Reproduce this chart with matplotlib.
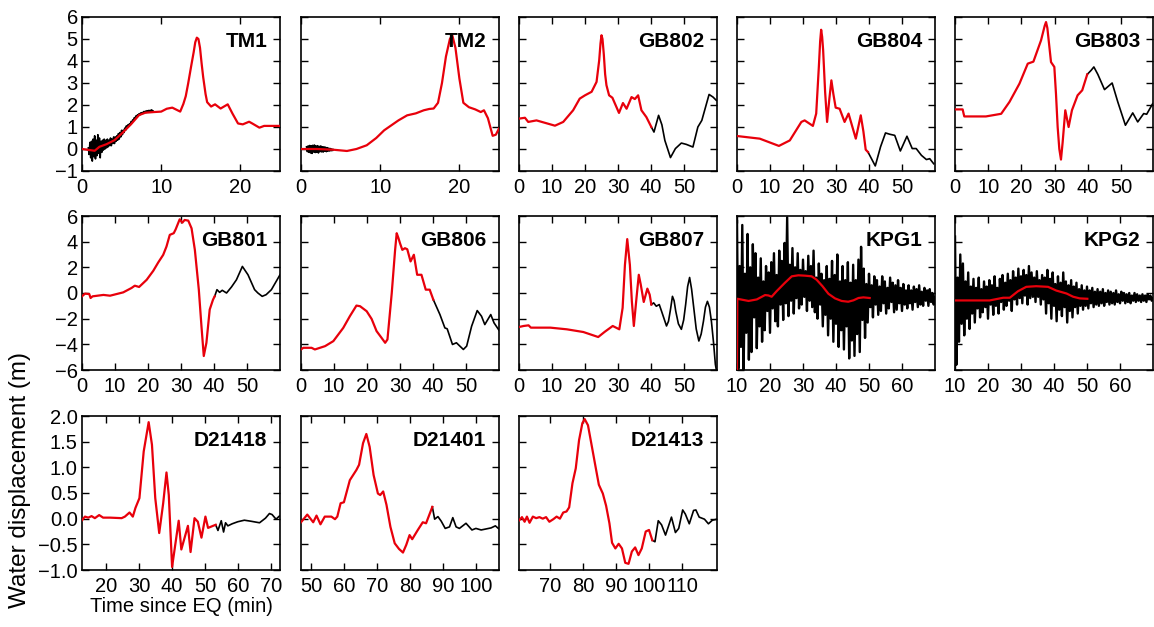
import numpy as np
import matplotlib
matplotlib.use("Agg")
import matplotlib.pyplot as plt

plt.rcParams['font.family'] = ['Liberation Sans', 'DejaVu Sans']
plt.rcParams['font.size'] = 14.5

# ---- row 1 stations (m, minutes since EQ) ----
tm1_model_t = [0, 1.0, 1.6, 2.2, 3.1, 4.1, 5.1, 6.2, 7.2, 8.0, 9.1, 10.0, 10.7, 11.4, 12.4, 12.8, 13.1,
               13.4, 13.8, 14.1, 14.3, 14.5, 14.7, 14.9, 15.1, 15.3, 15.6, 15.8, 16.3, 16.8, 17.5, 18.4,
               19.0, 19.7, 20.3, 21.1, 21.5, 22.4, 23.0, 23.8, 25.0]
tm1_model_h = [0.0, -0.05, -0.08, 0.1, 0.22, 0.4, 0.73, 1.13, 1.54, 1.65, 1.68, 1.7, 1.83, 1.88, 1.7, 2.05,
               2.4, 2.97, 3.8, 4.4, 4.85, 5.06, 5.0, 4.6, 3.9, 3.27, 2.5, 2.13, 1.93, 2.03, 1.84, 2.03,
               1.61, 1.16, 1.12, 1.24, 1.16, 0.97, 1.05, 1.05, 1.05]
tm1_obs_t0, tm1_obs_dt = 0.8, 0.1
tm1_obs_h = [0.05, -0.25, 0.30, -0.40, 0.35, -0.55, 0.45, -0.35, 0.60, -0.45, 0.40, -0.30, 0.65, -0.20,
             0.50, -0.40, 0.35, -0.15, 0.40, -0.05, 0.45, 0.00, 0.40, 0.05, 0.45, 0.10, 0.40, 0.15, 0.50,
             0.15, 0.45, 0.25, 0.55, 0.25, 0.55, 0.35, 0.60, 0.40, 0.70, 0.45, 0.75, 0.55, 0.85, 0.65,
             0.85, 0.75, 0.95, 0.85, 1.05, 0.95, 1.10, 1.05, 1.15, 1.10, 1.25, 1.20, 1.32, 1.30, 1.42,
             1.38, 1.50, 1.45, 1.55, 1.52, 1.60, 1.55, 1.64, 1.60, 1.66, 1.62, 1.70, 1.64, 1.72, 1.66,
             1.74, 1.68, 1.75, 1.68, 1.76, 1.70, 1.78, 1.70, 1.72]

tm2_model_t = [0, 2.0, 4.0, 5.8, 7.0, 8.3, 9.5, 10.5, 11.3, 12.3, 13.4, 14.5, 15.5, 16.2, 16.75, 17.3,
               17.8, 18.3, 18.8, 19.1, 19.5, 20.0, 20.5, 21.2, 22.0, 22.7, 23.1, 23.6, 24.2, 24.6, 25.0]
tm2_model_h = [0.0, 0.0, -0.03, -0.09, 0.0, 0.17, 0.5, 0.85, 1.05, 1.3, 1.53, 1.62, 1.76, 1.82, 1.84, 2.1,
               3.0, 4.2, 5.0, 5.17, 4.6, 3.2, 2.1, 1.9, 1.8, 1.68, 1.76, 1.4, 0.6, 0.65, 0.93]
tm2_obs_t0, tm2_obs_dt = 0.7, 0.1
tm2_obs_h = [0.10, -0.12, 0.14, -0.15, 0.16, -0.18, 0.15, -0.20, 0.17, -0.14, 0.18, -0.16, 0.14, -0.15,
             0.15, -0.18, 0.12, -0.12, 0.14, -0.13, 0.10, -0.14, 0.10, -0.10, 0.08, -0.12, 0.06, -0.10,
             0.04, -0.09, 0.02, -0.08, 0.0, -0.07, -0.03]

gb802_model_t = [0, 1.8, 2.8, 5.3, 10.9, 13.4, 16.4, 18.4, 20.0, 22.0, 23.5, 24.3, 24.7, 25.0, 25.3, 25.7,
                 26.1, 26.5, 27.3, 28.3, 30.3, 31.5, 32.6, 34.1, 35.1, 36.1, 37.1, 38.6, 40.1]
gb802_model_h = [1.38, 1.42, 1.23, 1.3, 1.06, 1.23, 1.76, 2.29, 2.44, 2.6, 3.05, 4.03, 4.8, 5.17, 5.0, 4.3,
                 3.4, 2.9, 2.44, 2.33, 1.64, 2.09, 1.83, 2.36, 2.27, 2.44, 1.76, 1.45, 1.0]
gb802_obs_t = [40.1, 40.9, 42.3, 43.3, 44.2, 45.9, 47.4, 49.2, 50.7, 52.7, 54.2, 55.4, 57.6, 58.8, 59.8]
gb802_obs_h = [1.0, 0.77, 1.53, 1.1, 0.39, -0.39, 0.02, 0.27, 0.21, 0.09, 1.0, 1.3, 2.48, 2.36, 2.21]

gb804_model_t = [0, 6.9, 12.7, 16.0, 19.5, 20.5, 23.0, 24.0, 24.8, 25.2, 25.5, 25.8, 26.1, 26.7, 27.3,
                 28.0, 28.6, 29.2, 29.9, 31.1, 32.6, 33.8, 36.0, 37.5, 38.3, 39.0, 39.7]
gb804_model_h = [0.59, 0.47, 0.14, 0.39, 1.23, 1.3, 1.05, 1.61, 3.73, 4.9, 5.42, 5.1, 4.5, 2.6, 1.23,
                 2.3, 3.12, 2.5, 1.88, 1.83, 1.23, 1.61, 0.47, 1.53, 0.8, -0.03, -0.14]
gb804_obs_t = [39.7, 41.9, 43.5, 45.0, 46.3, 47.8, 49.5, 51.5, 53.1, 54.3, 55.9, 57.4, 58.4, 59.6]
gb804_obs_h = [-0.14, -0.77, 0.1, 0.73, 0.67, 0.62, -0.09, 0.58, 0.02, 0.02, -0.29, -0.48, -0.44, -0.67]

gb803_model_t = [0, 2.3, 2.6, 2.8, 9.3, 13.9, 16.4, 19.4, 21.9, 23.6, 25.9, 27.0, 27.4, 27.8, 28.9, 29.9,
                 30.4, 30.9, 31.4, 31.9, 32.4, 33.2, 34.2, 35.2, 36.9, 38.3, 39.8]
gb803_model_h = [1.8, 1.8, 1.6, 1.48, 1.48, 1.6, 2.14, 2.97, 3.88, 3.97, 4.94, 5.6, 5.77, 5.5, 3.95, 3.73,
                 2.5, 1.0, 0.0, -0.48, 0.3, 1.76, 1.0, 1.76, 2.44, 2.67, 3.39]
gb803_obs_t = [39.8, 41.0, 41.8, 43.0, 45.0, 47.3, 49.0, 51.3, 53.5, 55.0, 56.8, 57.7, 59.5]
gb803_obs_h = [3.39, 3.58, 3.73, 3.39, 2.7, 3.0, 2.14, 1.08, 1.64, 1.23, 1.61, 1.58, 2.06]

# ---- row 2 stations ----
gb801_model_t = [0, 0.9, 2.2, 2.6, 3.2, 6.5, 8.5, 12.5, 15.0, 16.0, 17.3, 19.6, 21.6, 23.1, 24.6, 25.6,
                 26.6, 27.8, 28.4, 29.6, 30.4, 31.1, 32.2, 33.2, 34.2, 35.4, 36.2, 36.9, 37.7, 38.7, 39.7,
                 40.2]
gb801_model_h = [-0.26, -0.05, -0.08, -0.39, -0.26, -0.15, -0.21, 0.05, 0.39, 0.57, 0.47, 1.03, 1.73,
                 2.38, 2.97, 3.62, 4.53, 4.66, 4.97, 5.74, 5.48, 5.69, 5.64, 5.04, 3.36, 0.26, -2.59, -4.91,
                 -3.88, -1.29, -0.52, -0.26]
gb801_obs_t = [40.2, 40.9, 41.7, 42.5, 43.8, 45.3, 46.8, 48.6, 50.3, 52.3, 53.3, 54.6, 55.8, 57.4, 60.0]
gb801_obs_h = [-0.26, 0.26, 0.05, 0.21, 0.0, 0.47, 1.03, 2.07, 1.42, 0.26, 0.0, -0.26, -0.13, 0.26, 1.42]

gb806_model_t = [0, 0.7, 3.2, 4.2, 7.3, 9.8, 12.8, 14.8, 16.8, 17.9, 19.9, 21.4, 22.9, 24.4, 25.5, 26.2,
                 27.5, 28.5, 29.0, 29.5, 30.0, 30.7, 31.5, 32.2, 33.2, 34.2, 35.2, 36.5, 37.8, 39.0, 40.1]
gb806_model_h = [-4.4, -4.27, -4.27, -4.4, -4.14, -3.75, -2.72, -1.81, -0.98, -1.03, -1.42, -2.02, -2.97,
                 -3.49, -3.88, -3.62, 0.0, 3.3, 4.66, 4.3, 3.88, 3.36, 3.49, 3.41, 2.46, 2.98, 1.42, 1.42,
                 0.26, 0.26, -0.52]
gb806_obs_t = [40.1, 42.1, 43.6, 44.3, 45.9, 47.1, 49.2, 50.2, 51.7, 53.4, 54.7, 55.7, 57.5, 58.5, 60.0]
gb806_obs_h = [-0.52, -1.68, -2.72, -2.79, -4.01, -3.88, -4.4, -4.14, -2.59, -1.37, -1.81, -2.46, -1.68,
               -2.33, -2.9]

gb807_model_t = [0, 1.4, 2.9, 3.6, 9.5, 14.5, 19.5, 22.5, 24.0, 26.0, 28.4, 29.4, 30.4, 31.4, 32.1, 32.8,
                 33.6, 34.2, 34.8, 35.6, 36.3, 36.9, 37.8, 38.9, 39.6, 40.1]
gb807_model_h = [-2.65, -2.57, -2.52, -2.7, -2.7, -2.83, -3.04, -3.3, -3.43, -3.02, -2.57, -2.7, -2.83,
                 -1.16, 2.19, 4.2, 2.19, -0.65, -2.57, -0.39, 1.42, 0.65, -0.7, 0.34, -0.13, -0.9]
gb807_obs_t = [40.1, 40.8, 41.6, 42.5, 43.2, 44.7, 45.3, 45.9, 46.5, 47.0, 47.5, 48.3, 49.2, 49.9, 50.5,
               51.1, 51.7, 52.3, 52.9, 53.7, 54.5, 55.2, 55.9, 56.5, 57.1, 57.7, 58.3, 59.0, 59.5, 59.8]
gb807_obs_h = [-0.9, -0.77, -1.03, -0.9, -1.42, -2.57, -2.2, -1.29, -0.26, -0.6, -1.42, -2.4, -2.83, -2.1,
               -0.9, 0.5, 1.21, 0.3, -1.03, -2.8, -3.74, -3.2, -2.19, -1.1, -0.65, -1.1, -2.19, -4.0,
               -5.55, -6.0]

kpg1_model_t = [10.0, 10.1, 13.5, 16.0, 18.5, 19.5, 20.5, 22.0, 24.5, 26.6, 28.6, 30.6, 32.6, 34.1, 35.9,
                37.7, 39.7, 41.7, 43.7, 45.3, 46.8, 48.3, 50.2]
kpg1_model_h = [-6.0, -0.45, -0.62, -0.5, -0.16, -0.19, -0.29, 0.14, 0.79, 1.30, 1.38, 1.35, 1.30, 1.04,
                0.53, -0.06, -0.42, -0.62, -0.68, -0.57, -0.39, -0.34, -0.39]
kpg1_obs_t0, kpg1_obs_dt = 10.0, 0.4
kpg1_obs_h = [5.6, -5.9, 2.1, -4.2, 5.3, -6.0, 1.5, -3.1, 4.6, -5.2,
              2.0, -4.6, 3.8, -1.9, 3.1, -4.3, 1.2, -2.6, 2.7, -3.8,
              0.9, -2.9, 2.1, -1.4, 1.6, -3.1, 2.4, -1.2, 3.1, -2.2,
              1.4, -2.6, 3.3, -0.9, 2.5, -2.1, 3.9, -0.8, 5.9, -1.8,
              2.2, -0.6, 3.5, -1.6, 2.0, -0.4, 3.1, -1.2, 1.8, -0.9,
              2.6, -0.3, 1.7, -1.4, 2.9, -0.6, 2.1, -1.1, 3.3, -1.5,
              1.2, -2.0, 2.3, -0.9, 1.5, -2.6, 1.0, -1.7, 2.1, -3.3,
              1.1, -2.0, 2.5, -3.8, 1.4, -2.4, 3.0, -4.2, 0.9, -2.9,
              2.1, -4.4, 1.0, -2.6, 2.4, -5.1, 0.8, -3.7, 2.2, -4.9,
              1.0, -3.2, 2.6, -4.6, 3.6, -2.1, 1.9, -3.5, 0.7, -2.3,
              1.5, -1.1, 0.6, -1.9, 1.3, -0.9, 1.0, -1.7, 0.5, -1.4,
              1.3, -0.8, 0.9, -1.6, 0.4, -1.2, 1.2, -0.7, 0.8, -1.5,
              0.6, -1.3, 1.0, -0.8, 0.4, -1.4, 0.7, -0.9, 0.2, -1.2,
              0.6, -0.8, 0.2, -1.3, 0.5, -0.7, 0.3, -1.1, 0.6, -0.9,
              0.1, -1.0, 0.4, -0.6, 0.2, -1.0, 0.3, -0.7, 0.0, -0.9,
              -0.3]

kpg2_model_t = [10.0, 20.5, 24.6, 26.6, 29.1, 31.6, 34.6, 38.2, 40.7, 43.8, 45.8, 47.8, 50.1]
kpg2_model_h = [-0.58, -0.58, -0.37, -0.37, 0.14, 0.48, 0.53, 0.48, 0.19, -0.04, -0.29, -0.42, -0.45]
kpg2_obs_t0, kpg2_obs_dt = 10.0, 0.4
kpg2_obs_h = [4.4, -5.6, 1.2, -3.8, 3.0, -2.4, 2.3, -3.3, 0.9, -2.0,
              1.6, -2.8, 0.5, -1.6, 1.1, -2.3, 0.4, -1.2, 1.2, -1.9,
              0.3, -1.5, 0.9, -1.1, 0.5, -2.0, 1.0, -0.9, 0.6, -1.7,
              1.3, -1.0, 0.4, -1.6, 1.1, -0.7, 1.4, -1.3, 0.8, -1.0,
              1.5, -0.6, 1.0, -1.4, 1.7, -0.5, 1.2, -0.9, 1.9, -0.4,
              1.3, -0.8, 1.8, -0.2, 1.4, -0.9, 2.1, -0.4, 1.6, -0.3,
              1.2, -0.7, 1.7, -0.3, 1.0, -0.9, 1.4, -0.5, 1.2, -1.6,
              1.8, -0.8, 1.1, -2.0, 1.6, -1.0, 0.7, -2.2, 1.3, -1.3,
              0.8, -1.8, 1.6, -1.1, 0.9, -2.3, 0.6, -1.4, 1.0, -1.9,
              0.5, -1.1, 0.8, -1.6, 0.3, -1.0, 0.6, -1.3, 0.2, -1.0,
              0.5, -1.2, 0.2, -0.8, 0.4, -1.1, 0.1, -0.9, 0.3, -1.0,
              0.1, -0.8, 0.3, -1.0, 0.0, -0.7, 0.2, -0.9, 0.1, -0.8,
              0.0, -0.9, 0.2, -0.7, -0.1, -0.8, 0.1, -0.6, 0.0, -0.8,
              -0.1, -0.7, 0.0, -0.8, -0.2, -0.6, 0.0, -0.7, -0.1, -0.6,
              -0.2, -0.7, -0.1, -0.6, -0.2, -0.7, -0.1, -0.5, -0.2, -0.6,
              -0.4]

# ---- row 3: DART buoys ----
d21418_model_t = [12.7, 13.6, 14.6, 15.6, 16.6, 17.9, 19.1, 21.2, 24.7, 25.7, 27.1, 28.1, 28.9, 30.1, 31.4,
                  32.9, 33.9, 34.9, 36.1, 37.3, 38.3, 39.0, 40.0, 42.0, 42.8, 44.8, 45.6, 46.8, 47.8, 48.9,
                  50.1, 50.9, 52.4, 53.2]
d21418_model_h = [-0.03, 0.04, 0.02, 0.05, 0.01, 0.07, 0.02, 0.02, 0.01, 0.04, 0.12, 0.04, 0.21, 0.40,
                  1.31, 1.88, 1.44, 0.40, -0.28, 0.30, 0.90, 0.46, -0.94, -0.04, -0.6, -0.14, -0.65, 0.01,
                  -0.06, -0.37, 0.04, -0.18, -0.14, -0.12]
d21418_obs_t = [53.2, 53.9, 54.9, 55.6, 56.2, 56.9, 58.2, 59.9, 61.9, 63.9, 66.5, 68.3, 69.5, 70.3, 71.5,
                72.5]
d21418_obs_h = [-0.12, -0.23, -0.04, -0.26, -0.08, -0.14, -0.10, -0.06, -0.03, -0.05, -0.08, 0.01, 0.10,
                0.08, -0.01, 0.05]

d21401_model_t = [47.0, 48.9, 50.7, 51.7, 52.9, 54.2, 56.2, 57.3, 58.0, 59.0, 60.0, 61.8, 63.8, 64.6, 65.8,
                  66.8, 67.8, 69.0, 70.3, 71.0, 71.9, 72.9, 74.1, 75.4, 76.7, 77.9, 78.9, 79.9, 80.7, 82.4,
                  83.9, 84.9, 86.8]
d21401_model_h = [-0.07, 0.08, -0.07, 0.06, -0.11, 0.04, 0.04, -0.01, 0.04, 0.30, 0.32, 0.75, 0.95, 1.05,
                  1.47, 1.65, 1.40, 0.85, 0.49, 0.46, 0.53, 0.27, -0.16, -0.48, -0.59, -0.66, -0.51, -0.32,
                  -0.40, -0.22, -0.07, -0.09, 0.23]
d21401_obs_t = [86.8, 87.5, 88.5, 89.5, 90.7, 92.0, 93.0, 94.0, 95.0, 97.0, 98.8, 100.0, 101.6, 103.1,
                104.6, 105.9, 106.8]
d21401_obs_h = [0.23, -0.01, 0.04, -0.05, -0.19, -0.16, 0.02, -0.16, -0.19, -0.09, -0.22, -0.19, -0.22,
                -0.20, -0.18, -0.14, -0.19]

d21413_model_t = [60.7, 61.5, 62.3, 63.0, 63.8, 64.8, 65.8, 66.8, 67.8, 68.8, 69.8, 71.0, 72.0, 73.0, 74.0,
                  75.0, 75.8, 76.8, 77.8, 78.8, 79.8, 80.5, 81.5, 82.5, 83.8, 84.8, 86.0, 87.0, 88.0, 88.8,
                  89.8, 90.8, 91.8, 92.8, 93.8, 94.8, 95.8, 96.8, 97.8, 99.0, 100.0, 101.0]
d21413_model_h = [-0.03, 0.03, -0.06, 0.04, -0.08, 0.04, 0.01, 0.03, 0.0, 0.03, -0.06, -0.01, 0.04, 0.0,
                  0.12, 0.14, 0.22, 0.69, 0.98, 1.53, 1.86, 1.94, 1.82, 1.47, 1.01, 0.66, 0.49, 0.25, -0.09,
                  -0.47, -0.58, -0.49, -0.58, -0.86, -0.88, -0.64, -0.56, -0.71, -0.58, -0.25, -0.22, -0.42]
d21413_obs_t = [101.0, 101.8, 102.8, 103.8, 105.0, 106.8, 108.0, 109.0, 110.2, 111.0, 112.2, 113.5, 114.2,
                115.2, 116.8, 118.0, 119.2, 120.6]
d21413_obs_h = [-0.42, -0.45, -0.04, -0.12, -0.32, 0.03, -0.27, -0.19, 0.17, 0.09, -0.10, 0.16, 0.17, 0.03,
                -0.01, -0.10, -0.03, -0.01]


def sampled(t0, dt, h):
    return t0 + dt * np.arange(len(h)), np.asarray(h)


panels = [
    # name, row, col, model, obs, xlim, xticks
    ("TM1", 0, 0, (tm1_model_t, tm1_model_h), sampled(tm1_obs_t0, tm1_obs_dt, tm1_obs_h),
     (0, 25), [0, 10, 20]),
    ("TM2", 0, 1, (tm2_model_t, tm2_model_h), sampled(tm2_obs_t0, tm2_obs_dt, tm2_obs_h),
     (0, 25), [0, 10, 20]),
    ("GB802", 0, 2, (gb802_model_t, gb802_model_h), (gb802_obs_t, gb802_obs_h),
     (0, 60), [0, 10, 20, 30, 40, 50]),
    ("GB804", 0, 3, (gb804_model_t, gb804_model_h), (gb804_obs_t, gb804_obs_h),
     (0, 60), [0, 10, 20, 30, 40, 50]),
    ("GB803", 0, 4, (gb803_model_t, gb803_model_h), (gb803_obs_t, gb803_obs_h),
     (0, 59.6), [0, 10, 20, 30, 40, 50]),
    ("GB801", 1, 0, (gb801_model_t, gb801_model_h), (gb801_obs_t, gb801_obs_h),
     (0, 60), [0, 10, 20, 30, 40, 50]),
    ("GB806", 1, 1, (gb806_model_t, gb806_model_h), (gb806_obs_t, gb806_obs_h),
     (0, 60), [0, 10, 20, 30, 40, 50]),
    ("GB807", 1, 2, (gb807_model_t, gb807_model_h), (gb807_obs_t, gb807_obs_h),
     (0, 60), [0, 10, 20, 30, 40, 50]),
    ("KPG1", 1, 3, (kpg1_model_t, kpg1_model_h), sampled(kpg1_obs_t0, kpg1_obs_dt, kpg1_obs_h),
     (10, 70), [10, 20, 30, 40, 50, 60]),
    ("KPG2", 1, 4, (kpg2_model_t, kpg2_model_h), sampled(kpg2_obs_t0, kpg2_obs_dt, kpg2_obs_h),
     (10, 70), [10, 20, 30, 40, 50, 60]),
    ("D21418", 2, 0, (d21418_model_t, d21418_model_h), (d21418_obs_t, d21418_obs_h),
     (12.7, 72.7), [20, 30, 40, 50, 60, 70]),
    ("D21401", 2, 1, (d21401_model_t, d21401_model_h), (d21401_obs_t, d21401_obs_h),
     (47, 107), [50, 60, 70, 80, 90, 100]),
    ("D21413", 2, 2, (d21413_model_t, d21413_model_h), (d21413_obs_t, d21413_obs_h),
     (60.6, 120.6), [70, 80, 90, 100, 110]),
]

row_ylim = [(-1, 6), (-6, 6), (-1.0, 2.0)]
row_yticks = [list(range(-1, 7)), list(range(-6, 7, 2)), [-1.0, -0.5, 0.0, 0.5, 1.0, 1.5, 2.0]]

W, H = 1154, 627
col_left = [82, 301, 519, 737, 955]
row_top = [17, 216, 416]
ax_w, ax_h = 198, 154

fig = plt.figure(figsize=(W / 100, H / 100), dpi=100)

for name, r, c, (mt, mh), (ot, oh), xlim, xticks in panels:
    ax = fig.add_axes([col_left[c] / W, 1 - (row_top[r] + ax_h) / H, ax_w / W, ax_h / H])
    noisy = name.startswith("KPG")
    ax.plot(ot, oh, color="black", lw=1.7 if noisy else 1.2, zorder=2)
    ax.plot(mt, mh, color="#e8000b", lw=1.6, zorder=3)
    ax.set_xlim(*xlim)
    ax.set_ylim(*row_ylim[r])
    ax.set_xticks(xticks)
    ax.set_yticks(row_yticks[r])
    ax.tick_params(direction="in", top=True, right=True, length=5, width=1.0,
                   labelsize=14.5)
    ax.tick_params(axis="x", pad=5)
    ax.tick_params(axis="y", pad=3)
    if c != 0:
        ax.tick_params(labelleft=False)
    for s in ax.spines.values():
        s.set_linewidth(1.2)
    ax.text(0.935, 0.84, name, transform=ax.transAxes, ha="right", va="center",
            fontsize=15, fontweight="bold", zorder=4)
    if (r, c) == (2, 0):
        ax.set_xlabel("Time since EQ (min)", fontsize=14.5, labelpad=1)

fig.text(20 / W, 1 - 480 / H, "Water displacement (m)", rotation=90,
         ha="center", va="center", fontsize=17.5)

fig.savefig("out.png", dpi=100)
